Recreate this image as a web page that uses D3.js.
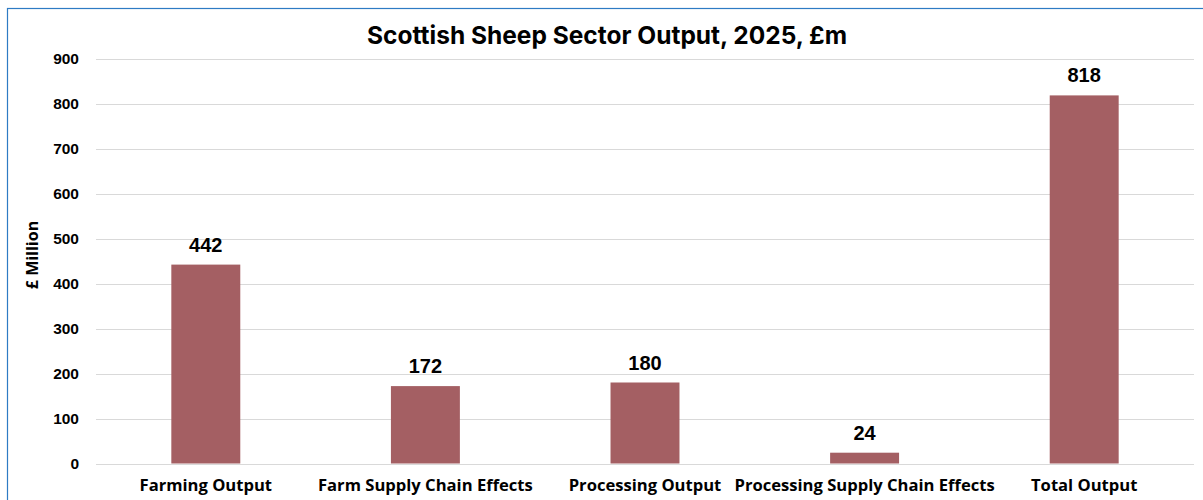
<!DOCTYPE html>
<html>
<head>
<meta charset="utf-8">
<script src="https://cdn.jsdelivr.net/npm/d3@7"></script>
<style>
  html, body { margin: 0; padding: 0; background: #fff; }
  svg { display: block; }
</style>
</head>
<body>
<svg id="chart" width="1203" height="500"></svg>
<script>
// Output by part of the sheep sector, £ million
const categories = ["Farming Output", "Farm Supply Chain Effects", "Processing Output", "Processing Supply Chain Effects", "Total Output"];
const values = [442, 172, 180, 24, 818];
const yTicks = [0, 100, 200, 300, 400, 500, 600, 700, 800, 900];

const svg = d3.select("#chart");
const W = 1203, H = 500;
const margin = { left: 96, right: 9, top: 58.5, bottom: 36.5 };

// Chart frame
svg.append("rect")
  .attr("x", 7.5).attr("y", 8.5)
  .attr("width", W + 10).attr("height", H)
  .attr("fill", "#fff")
  .attr("stroke", "#2E7BC4").attr("stroke-width", 1.2);

const x = d3.scaleBand()
  .domain(categories)
  .range([margin.left, W - margin.right])
  .paddingInner(0.686)
  .paddingOuter(0.343);

const y = d3.scaleLinear()
  .domain([0, 900])
  .range([H - margin.bottom, margin.top]);

// Gridlines
svg.append("g")
  .selectAll("line")
  .data(yTicks)
  .join("line")
  .attr("x1", margin.left).attr("x2", W - margin.right)
  .attr("y1", d => Math.round(y(d)) + 0.5).attr("y2", d => Math.round(y(d)) + 0.5)
  .attr("stroke", "#D9D9D9").attr("stroke-width", 1);

// Y axis labels
const yAxis = d3.axisLeft(y).tickValues(yTicks).tickSize(0).tickPadding(0);
const gy = svg.append("g")
  .attr("transform", `translate(${margin.left - 17},0)`)
  .call(yAxis);
gy.select(".domain").remove();
gy.selectAll("text")
  .attr("font-family", "Liberation Sans, Arial, sans-serif")
  .attr("font-weight", "bold")
  .attr("font-size", 15.5)
  .attr("fill", "#000");

// Bars
svg.append("g")
  .selectAll("rect")
  .data(values)
  .join("rect")
  .attr("x", (d, i) => x(categories[i]))
  .attr("width", x.bandwidth())
  .attr("y", d => y(d))
  .attr("height", d => y(0) - y(d))
  .attr("fill", "#A45F63");

// Value labels
svg.append("g")
  .selectAll("text")
  .data(values)
  .join("text")
  .attr("x", (d, i) => x(categories[i]) + x.bandwidth() / 2)
  .attr("y", d => y(d) - 13)
  .attr("text-anchor", "middle")
  .attr("font-family", "Liberation Sans, Arial, sans-serif")
  .attr("font-weight", "bold")
  .attr("font-size", 20)
  .attr("fill", "#000")
  .text(d => d);

// X axis labels
const xAxis = d3.axisBottom(x).tickSize(0).tickPadding(0);
const gx = svg.append("g")
  .attr("transform", `translate(0,${y(0) + 15.5})`)
  .call(xAxis);
gx.select(".domain").remove();
gx.selectAll("text")
  .attr("font-family", "Open Sans, sans-serif")
  .attr("font-weight", "bold")
  .attr("font-size", 16.6)
  .attr("fill", "#000");

// Y axis title
svg.append("text")
  .attr("transform", `translate(38,${(y(0) + y(900)) / 2 - 6}) rotate(-90)`)
  .attr("text-anchor", "middle")
  .attr("font-family", "Open Sans, sans-serif")
  .attr("font-weight", "bold")
  .attr("font-size", 16)
  .attr("fill", "#000")
  .text("£ Million");

// Title
svg.append("text")
  .attr("x", 607).attr("y", 44)
  .attr("text-anchor", "middle")
  .attr("font-family", "Inter, sans-serif")
  .attr("font-weight", "bold")
  .attr("font-size", 24.5)
  .attr("fill", "#000")
  .text("Scottish Sheep Sector Output, 2025, £m");
</script>
</body>
</html>
